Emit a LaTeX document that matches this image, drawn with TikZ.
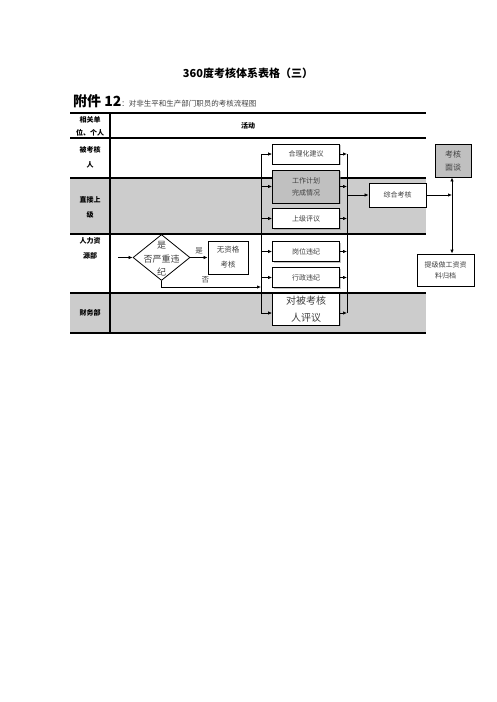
\documentclass[tikz,border=0pt]{standalone}
\usepackage{fontspec}
\setmainfont{Noto Sans CJK SC}
\usetikzlibrary{arrows.meta,shadows,shapes.geometric}
\definecolor{rowgray}{RGB}{204,204,204}
\definecolor{boxgray}{RGB}{192,192,192}
\begin{document}
\begin{tikzpicture}[x=1pt,y=-1pt,
    box/.style={draw, line width=0.8pt, fill=white, minimum width=67pt, minimum height=20pt,
        inner sep=1pt, align=center, text=black!75, font=\fontsize{7}{12}\selectfont,
        drop shadow={shadow xshift=1.2pt, shadow yshift=-1.2pt, fill=black!45}},
    graybox/.style={box, fill=boxgray},
    lbl/.style={align=center, font=\bfseries\fontsize{7}{15}\selectfont},
    decide/.style={diamond, draw, line width=0.8pt, fill=white, minimum width=57pt, minimum height=46pt, inner sep=0pt},
    arr/.style={-{Latex[length=4pt,width=3.4pt]}, line width=0.7pt},
    rule/.style={line width=1.1pt}]
  \useasboundingbox (0,0) rectangle (496,702);
  % headings
  \node (title) at (248,73) {\bfseries\fontsize{11}{13}\selectfont 360度考核体系表格（三）};
  \node[anchor=west, inner sep=0pt] (sub) at (73,101)
    {{\bfseries\fontsize{14}{16}\selectfont 附件 12}{\fontsize{7.5}{9}\selectfont\color{black!75}：对非生平和生产部门职员的考核流程图}};
  % table rows
  \fill[rowgray] (70,178) rectangle (426,234);
  \fill[rowgray] (70,293) rectangle (426,333);
  \foreach \y in {113,138,178,234,293,333}
    \draw[rule] (70,\y) -- (426,\y);
  \draw[rule] (110,113) -- (110,333);
  \node[lbl, font=\bfseries\fontsize{7}{13}\selectfont] (hunit) at (90,126) {相关单\\位、个人};
  \node[lbl] (hact) at (248,126) {活动};
  \node[lbl] (rowa) at (90,157) {被考核\\人};
  \node[lbl] (rowb) at (90,207) {直接上\\级};
  \node[lbl] (rowc) at (90,248) {人力资\\源部};
  \node[lbl] (rowd) at (90,313) {财务部};
  % activity boxes
  \node[box] (advice) at (306,154) {合理化建议};
  \node[graybox, minimum height=33pt] (plan) at (306,186.5) {工作计划\\完成情况};
  \node[box] (boss) at (306,218.5) {上级评议};
  \node[box] (postv) at (306,251.5) {岗位违纪};
  \node[box] (admv) at (306,277.5) {行政违纪};
  \node[box, minimum height=32pt, font=\fontsize{10}{17}\selectfont] (peer) at (306,309) {对被考核\\人评议};
  \node[box, minimum width=57pt, minimum height=24pt] (sum) at (397.5,195) {综合考核};
  \node[graybox, minimum width=36pt, minimum height=33pt, font=\fontsize{8}{13}\selectfont] (talk) at (453,160.5) {考核\\面谈};
  \node[box, minimum width=57pt, minimum height=32pt, font=\fontsize{7}{11}\selectfont] (file) at (445.5,270) {提级做工资资\\料归档};
  % screening
  \node[decide] (judge) at (161.5,257.5) {};
  \node[align=center, text=black!75, font=\fontsize{9}{13.5}\selectfont] (judgetxt) at ([yshift=-1.5pt]judge.center) {是\\否严重违\\纪};
  \node[box, minimum width=40pt, minimum height=33pt, font=\fontsize{7.5}{15}\selectfont] (noq) at (228,257.5) {无资格\\考核};
  % bus lines
  \coordinate (lt) at (261,154);
  \coordinate (lb) at (261,313);
  \coordinate (rt) at (347,154);
  \coordinate (rb) at (347,313);
  \coordinate (start) at (118,257.5);
  \coordinate (nojoin) at (261,287);
  \coordinate (vjoin) at (452,195);
  \draw[line width=0.8pt] (lt) -- (lb);
  \draw[line width=0.8pt] (rt) -- (rb);
  \foreach \b/\y in {advice/154,plan/186.5,boss/218.5,postv/251.5,admv/277.5,peer/313} {
    \draw[arr] (261,\y) -- (\b.west |- 0,\y);
    \draw[arr] (\b.east |- 0,\y) -- (347,\y);
  }
  % connectors
  \draw[arr] (start) -- (judge.west);
  \draw[arr] (judge.east) -- node[above, font=\fontsize{7.5}{9}\selectfont, text=black!75] (yes) {是} (noq.west);
  \draw[arr] (judge.south) |- node[pos=0.72, above, font=\fontsize{7.5}{9}\selectfont, text=black!75] (no) {否} (nojoin);
  \draw[arr] (rt |- sum) -- (sum.west);
  \draw[arr] (sum.east) -- (vjoin);
  \draw[{Latex[length=4pt,width=3.4pt]}-{Latex[length=4pt,width=3.4pt]}, line width=0.8pt] (vjoin |- talk.south) -- (vjoin |- file.north);
\end{tikzpicture}
\end{document}
